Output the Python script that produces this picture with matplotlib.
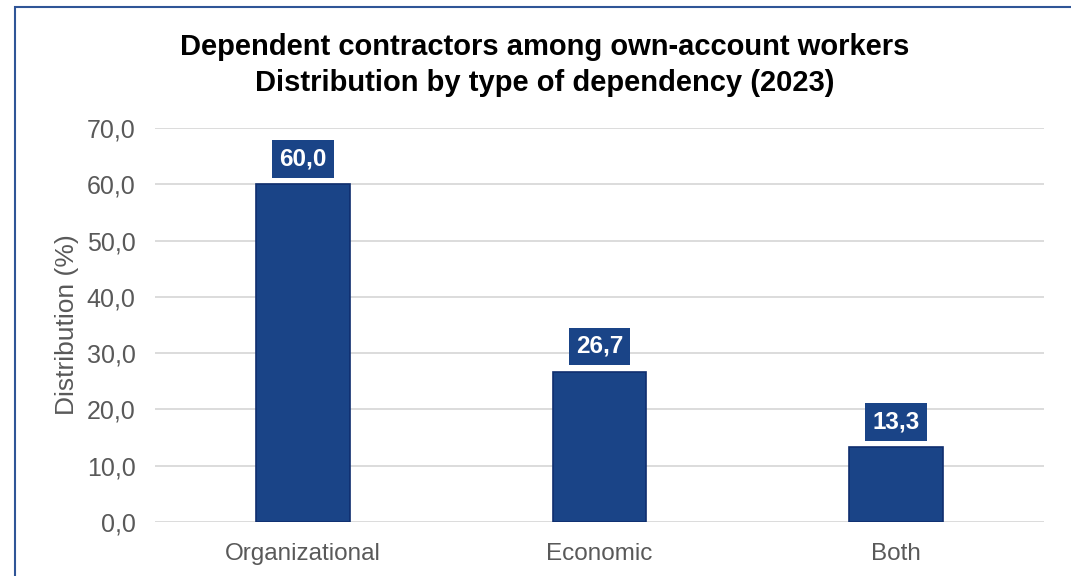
import matplotlib.pyplot as plt
from matplotlib.patches import Rectangle
from matplotlib.ticker import FuncFormatter

categories = ['Organizational', 'Economic', 'Both']
shares = [60.0, 26.7, 13.3]
yticks = [0, 10, 20, 30, 40, 50, 60, 70]

bar_blue = '#1a4487'
edge_blue = '#0f2e6e'
grey_text = '#595959'

plt.rcParams['font.family'] = ['Liberation Sans', 'DejaVu Sans']

fig = plt.figure(figsize=(10.71, 5.76), dpi=100)
W, H = 1071, 576

# outer frame of the chart
fig.patches.append(Rectangle((15 / W, -0.05), 1.2, 1 - 7 / H + 0.05, transform=fig.transFigure,
                             fill=False, edgecolor='#2f5597', linewidth=1.5))

ax = fig.add_axes([155 / W, 1 - 522 / H, (1044 - 155) / W, (522 - 128) / H])

x = range(len(categories))
bars = ax.bar(x, shares, width=0.315, color=bar_blue, edgecolor=edge_blue, linewidth=1.2, zorder=3)

for b, v in zip(bars, shares):
    ax.annotate(f'{v:.1f}'.replace('.', ','), (b.get_x() + b.get_width() / 2, v),
                xytext=(0, 10), textcoords='offset points', ha='center', va='bottom',
                color='white', fontsize=17.5, fontweight='bold', zorder=4,
                bbox=dict(boxstyle='square,pad=0.3', facecolor=bar_blue, edgecolor='none'))

ax.set_xlim(-0.5, 2.5)
ax.set_ylim(0, 70)
ax.set_yticks(yticks)
ax.yaxis.set_major_formatter(FuncFormatter(lambda v, p: f'{v:.1f}'.replace('.', ',')))
ax.set_xticks(list(x))
ax.set_xticklabels(categories)
ax.grid(axis='y', color='#d9d9d9', linewidth=1.3, zorder=0)
for s in ax.spines.values():
    s.set_visible(False)
ax.tick_params(axis='y', length=0, labelsize=18, colors=grey_text, pad=14)
ax.tick_params(axis='x', length=0, labelsize=17.5, colors=grey_text, pad=15)
ax.set_ylabel('Distribution (%)', fontsize=19, color=grey_text)
ax.yaxis.set_label_coords(-0.085, 0.5)

fig.text(545 / W, 1 - 65 / H, 'Dependent contractors among own-account workers\nDistribution by type of dependency (2023)',
         ha='center', va='center', fontsize=21, fontweight='bold', linespacing=1.32)

fig.savefig('out.png', dpi=100)
